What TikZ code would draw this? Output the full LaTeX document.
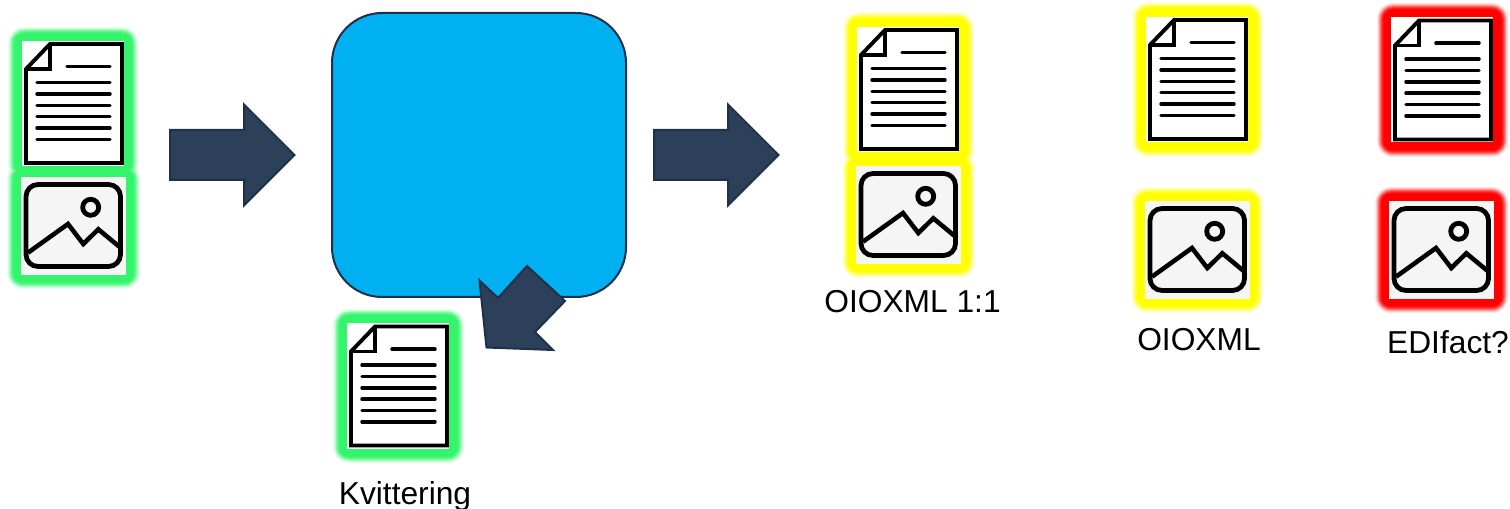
\documentclass[tikz,border=0pt]{standalone}
\usepackage{fontspec}
\setmainfont{Liberation Sans}
\tikzset{
  x=0.75pt, y=-0.75pt,
  blockarrow/.style={fill=arrowfill, draw=arrowline, line width=1.5pt, line join=miter},
  hubbox/.style={fill=hubfill, draw=arrowline, line width=1.5pt, rounded corners=37.5pt},
  icontext/.style={anchor=base, font=\fontsize{23.8pt}{28pt}\selectfont, text=black, inner sep=0pt},
  iconline/.style={draw=black, line width=2.6pt, line cap=round, line join=round},
  docicon/.pic={
    \fill[white] (0,0) rectangle (102,125);
    \draw[draw=black, line width=2.9pt, line join=miter] (4,28) -- (28,3) -- (100,3) -- (100,122) -- (4,122) -- cycle;
    \draw[draw=black, line width=2.6pt, line join=miter] (28,3) -- (28,28) -- (4,28);
    \draw[iconline] (45,25.7) -- (88,25.7);
    \foreach \yy in {41.7,53,64.3,75.7,87,98.3} \draw[iconline] (15,\yy) -- (88,\yy);
  },
  imgicon/.pic={
    \fill[imgfill] (0,0) rectangle (105,98);
    \draw[draw=black, line width=3.6pt, rounded corners=9pt] (5,7.5) rectangle (99.5,89.5);
    \draw[draw=black, line width=3.6pt] (69.7,30.3) circle[radius=8];
    \draw[draw=black, line width=3.4pt, line join=miter] (7,75.7) -- (47,47) -- (62.3,67) -- (77.3,52.3) -- (98.3,69.7);
  }
}
\definecolor{arrowfill}{HTML}{2C405A}
\definecolor{arrowline}{HTML}{1F304A}
\definecolor{hubfill}{HTML}{00B0F0}
\definecolor{imgfill}{HTML}{F5F5F5}
\definecolor{glowgreen}{HTML}{33F46B}
\definecolor{glowyellow}{HTML}{FFFF00}
\definecolor{glowred}{HTML}{FF0000}
% \glowbox{colour}{x0}{y0}{x1}{y1}
\newcommand{\glowbox}[5]{%
  \foreach \off/\mix in {14.5/5,13.5/15,12.5/30,11.5/50,10.5/68,9.5/82,8.5/93,7.5/100}
    \fill[#1!\mix!white, rounded corners={(\off+2)*0.75pt}]
      ({#2-\off},{#3-\off}) rectangle ({#4+\off},{#5+\off});
}
% \glowpair{colour}{x0}{y0}{x1}{y1}{x2}{y2}{x3}{y3}: two glows that merge
\newcommand{\glowpair}[9]{%
  \foreach \off/\mix in {14.5/5,13.5/15,12.5/30,11.5/50,10.5/68,9.5/82,8.5/93,7.5/100}
    \fill[#1!\mix!white, rounded corners={(\off+2)*0.75pt}]
      ({#2-\off},{#3-\off}) rectangle ({#4+\off},{#5+\off})
      ({#6-\off},{#7-\off}) rectangle ({#8+\off},{#9+\off});
}
\begin{document}
\begin{tikzpicture}
\useasboundingbox (0,0) rectangle (1510,509);
% glows
\glowpair{glowgreen}{22}{41}{124}{166}{21}{177}{126}{275}
\glowbox{glowgreen}{347}{323}{450}{449}
\glowpair{glowyellow}{857}{26}{960}{153}{856}{166}{961}{264}
\glowbox{glowyellow}{1146}{16}{1249}{143}
\glowbox{glowyellow}{1145}{201}{1249}{299}
\glowbox{glowred}{1391}{17}{1494}{143}
\glowbox{glowred}{1389}{201}{1494}{299}
% icons
\pic at (22,41) {docicon};
\pic at (21,177) {imgicon};
\pic at (347,323.5) {docicon};
\pic at (857,27) {docicon};
\pic at (856,166) {imgicon};
\pic at (1146,17) {docicon};
\pic at (1145,201) {imgicon};
\pic at (1391,17.5) {docicon};
\pic at (1389,201) {imgicon};
% central box
\draw[hubbox] (332,13) rectangle (626,297);
% block arrows
\draw[blockarrow] (170,130) -- (244,130) -- (244,104.5) -- (294.5,155) -- (244,205.5) -- (244,180) -- (170,180) -- cycle;
\draw[blockarrow] (654,130) -- (728,130) -- (728,104.5) -- (778.5,155) -- (728,205.5) -- (728,180) -- (654,180) -- cycle;
\draw[blockarrow] (479.5,280.5) -- (498,298) -- (527,266) -- (565,301) -- (535,332) -- (553,350) -- (486.5,347.5) -- cycle;
% labels
\node[icontext] (kvit) at (405,504.5) {Kvittering};
\node[icontext] (oio11) at (912.5,313) {OIOXML 1:1};
\node[icontext] (oio) at (1199,351) {OIOXML};
\node[icontext] (edi) at (1448,354) {EDIfact?};
\end{tikzpicture}
\end{document}
